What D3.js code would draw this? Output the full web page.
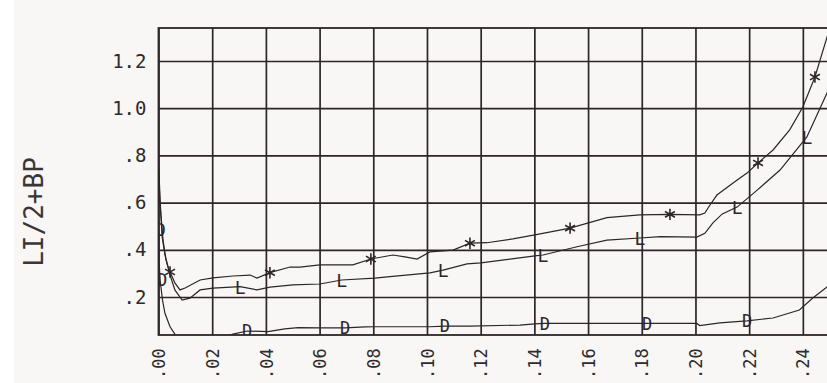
<!DOCTYPE html>
<html>
<head>
<meta charset="utf-8">
<script src="https://cdn.jsdelivr.net/npm/d3@7"></script>
<style>
  html, body { margin: 0; padding: 0; background: #ffffff; }
  svg { display: block; }
</style>
</head>
<body>
<svg id="chart" width="827" height="383"></svg>
<script>
// ---- data ----------------------------------------------------------------
const xTickValues = [0, 0.02, 0.04, 0.06, 0.08, 0.10, 0.12, 0.14, 0.16, 0.18, 0.20, 0.22, 0.24];
const xTickLabels = [".00", ".02", ".04", ".06", ".08", ".10", ".12", ".14", ".16", ".18", ".20", ".22", ".24"];
const yTickValues = [0.2, 0.4, 0.6, 0.8, 1.0, 1.2];
const yTickLabels = [".2", ".4", ".6", ".8", "1.0", "1.2"];
const yTitle = "LI/2+BP";

// upper curve (asterisk markers)
const seriesStar = [
  [0.0000, 0.78], [0.0006, 0.61], [0.0013, 0.46], [0.0024, 0.378], [0.0035, 0.331],
  [0.0043, 0.306], [0.0061, 0.26], [0.0080, 0.23], [0.0099, 0.238], [0.0155, 0.272],
  [0.0203, 0.281], [0.0277, 0.289], [0.0341, 0.293], [0.0367, 0.280], [0.0415, 0.303],
  [0.0490, 0.327], [0.0527, 0.327], [0.0601, 0.336], [0.0676, 0.336], [0.0724, 0.336],
  [0.0791, 0.361], [0.0873, 0.378], [0.0918, 0.370], [0.0963, 0.361], [0.1011, 0.391],
  [0.1097, 0.399], [0.1160, 0.428], [0.1223, 0.430], [0.1320, 0.446], [0.1402, 0.463],
  [0.1533, 0.492], [0.1670, 0.536], [0.1793, 0.548], [0.1905, 0.550], [0.2016, 0.548],
  [0.2035, 0.556], [0.2054, 0.590], [0.2080, 0.632], [0.2140, 0.683], [0.2192, 0.725],
  [0.2233, 0.768], [0.2289, 0.823], [0.2351, 0.908], [0.2400, 1.005], [0.2445, 1.132],
  [0.2490, 1.301], [0.2520, 1.42]
];
const starMarks = [0.0043, 0.0415, 0.0791, 0.1160, 0.1533, 0.1905, 0.2233, 0.2445];

// middle curve (L markers)
const seriesL = [
  [0.0000, 0.74], [0.0006, 0.59], [0.0017, 0.44], [0.0028, 0.357], [0.0043, 0.293],
  [0.0061, 0.23], [0.0088, 0.187], [0.0117, 0.195], [0.0155, 0.23], [0.0203, 0.238],
  [0.0304, 0.244], [0.0367, 0.230], [0.0415, 0.242], [0.0501, 0.251], [0.0601, 0.255],
  [0.0682, 0.272], [0.0806, 0.280], [0.0862, 0.286], [0.1011, 0.302], [0.1060, 0.314],
  [0.1149, 0.340], [0.1201, 0.345], [0.1402, 0.374], [0.1432, 0.378], [0.1559, 0.413],
  [0.1670, 0.441], [0.1793, 0.450], [0.1870, 0.456], [0.2005, 0.454], [0.2035, 0.470],
  [0.2065, 0.514], [0.2100, 0.552], [0.2155, 0.581], [0.2230, 0.653], [0.2315, 0.738],
  [0.2415, 0.878], [0.2490, 1.064], [0.2520, 1.16]
];
const lMarks = [0.0304, 0.0682, 0.1060, 0.1432, 0.1793, 0.2155, 0.2415];

// lower curve (D markers)
const seriesD = [
  [0.0000, 0.484], [0.0002, 0.357], [0.0006, 0.272], [0.0015, 0.187], [0.0024, 0.131],
  [0.0043, 0.074], [0.0061, 0.043], [0.0080, 0.018], [0.0150, 0.010], [0.0250, 0.030],
  [0.0277, 0.043], [0.0330, 0.056], [0.0408, 0.053], [0.0470, 0.065], [0.0520, 0.070],
  [0.0601, 0.069], [0.0695, 0.069], [0.0770, 0.073], [0.0806, 0.074], [0.1011, 0.074],
  [0.1067, 0.077], [0.1160, 0.077], [0.1346, 0.081], [0.1402, 0.086], [0.1439, 0.088],
  [0.1820, 0.088], [0.2005, 0.088], [0.2016, 0.079], [0.2091, 0.090], [0.2166, 0.097],
  [0.2192, 0.099], [0.2289, 0.111], [0.2387, 0.145], [0.2437, 0.196], [0.2490, 0.242],
  [0.2520, 0.30]
];
const dMarks = [0.0000, 0.0006, 0.0330, 0.0695, 0.1067, 0.1439, 0.1820, 0.2192];

// ---- layout --------------------------------------------------------------
const W = 827, H = 383;
const plot = { left: 158.5, top: 28, right: 829.7, bottom: 335 };
const ink = "#2d2529";
const mono = "'DejaVu Sans Mono', 'Liberation Mono', monospace";

const svg = d3.select("#chart");

// paper
svg.append("rect").attr("x", 14).attr("y", 0).attr("width", W - 14).attr("height", H)
  .attr("fill", "#f8f7f5");

const x = d3.scaleLinear().domain([0, 0.25]).range([plot.left, plot.right]);
const y = d3.scaleLinear().domain([0.2, 1.2]).range([297, 61]);

const pw = plot.right - plot.left, ph = plot.bottom - plot.top;

// vertical grid + rotated x labels
const xAxis = d3.axisBottom(x)
  .tickValues(xTickValues)
  .tickSize(-ph)
  .tickFormat((d, i) => xTickLabels[i]);
const gx = svg.append("g").attr("transform", `translate(0,${plot.bottom})`).call(xAxis);
gx.select(".domain").remove();
gx.selectAll(".tick line").attr("stroke", ink).attr("stroke-width", 1.7);
gx.selectAll(".tick text")
  .attr("transform", "rotate(-90)")
  .attr("x", -44).attr("y", 0).attr("dy", "0.36em")
  .attr("text-anchor", "start")
  .attr("font-family", mono).attr("font-size", 17)
  .attr("fill", "#2f2a2c");

// horizontal grid + y labels
const yAxis = d3.axisLeft(y)
  .tickValues(yTickValues)
  .tickSize(-pw)
  .tickPadding(12)
  .tickFormat((d, i) => yTickLabels[i]);
const gy = svg.append("g").attr("transform", `translate(${plot.left},0)`).call(yAxis);
gy.select(".domain").remove();
gy.selectAll(".tick line").attr("stroke", ink).attr("stroke-width", 1.7);
gy.selectAll(".tick text")
  .attr("font-family", mono).attr("font-size", 19)
  .attr("fill", "#2f2a2c");

// frame
svg.append("rect")
  .attr("x", plot.left).attr("y", plot.top)
  .attr("width", pw).attr("height", ph)
  .attr("fill", "none").attr("stroke", ink).attr("stroke-width", 1.8);

// y title
svg.append("text")
  .attr("transform", `translate(43,212) rotate(-90)`)
  .attr("text-anchor", "middle")
  .attr("font-family", mono).attr("font-size", 26)
  .attr("fill", "#3a3537")
  .text(yTitle);

// curves, clipped to the frame
svg.append("clipPath").attr("id", "plotClip")
  .append("rect").attr("x", plot.left).attr("y", plot.top).attr("width", pw).attr("height", ph);

const curves = svg.append("g").attr("clip-path", "url(#plotClip)");
const line = d3.line().x(d => x(d[0])).y(d => y(d[1]));

[seriesStar, seriesL, seriesD].forEach(s => {
  curves.append("path").datum(s)
    .attr("d", line)
    .attr("fill", "none")
    .attr("stroke", ink)
    .attr("stroke-width", 1.2);
});

const at = (s, xv) => s.find(p => Math.abs(p[0] - xv) < 1e-9);

// asterisk markers
const asterisk = {
  draw(ctx, size) {
    const r = Math.sqrt(size) / 2;
    for (let k = 0; k < 3; k++) {
      const a = Math.PI / 2 + k * Math.PI / 3;
      ctx.moveTo(r * Math.cos(a), r * Math.sin(a));
      ctx.lineTo(-r * Math.cos(a), -r * Math.sin(a));
    }
  }
};
const mk = svg.append("g").attr("clip-path", "url(#plotClip)");
mk.selectAll("path.star").data(starMarks.map(v => at(seriesStar, v)))
  .join("path").attr("class", "star")
  .attr("transform", d => `translate(${x(d[0])},${y(d[1])})`)
  .attr("d", d3.symbol().type(asterisk).size(130))
  .attr("fill", "none").attr("stroke", ink).attr("stroke-width", 1.6);

mk.selectAll("text.lm").data(lMarks.map(v => at(seriesL, v)))
  .join("text").attr("class", "lm")
  .attr("x", d => x(d[0])).attr("y", d => y(d[1]))
  .attr("dy", "0.4em").attr("text-anchor", "middle")
  .attr("font-family", mono).attr("font-size", 18)
  .attr("fill", ink)
  .text("L");

mk.selectAll("text.dm").data(dMarks.map(v => at(seriesD, v)))
  .join("text").attr("class", "dm")
  .attr("x", d => x(d[0]) + (d[0] < 0.002 ? 2 : 0)).attr("y", d => y(d[1]))
  .attr("dy", "0.36em").attr("text-anchor", "middle")
  .attr("font-family", mono).attr("font-size", 17)
  .attr("fill", ink)
  .text("D");
</script>
</body>
</html>
